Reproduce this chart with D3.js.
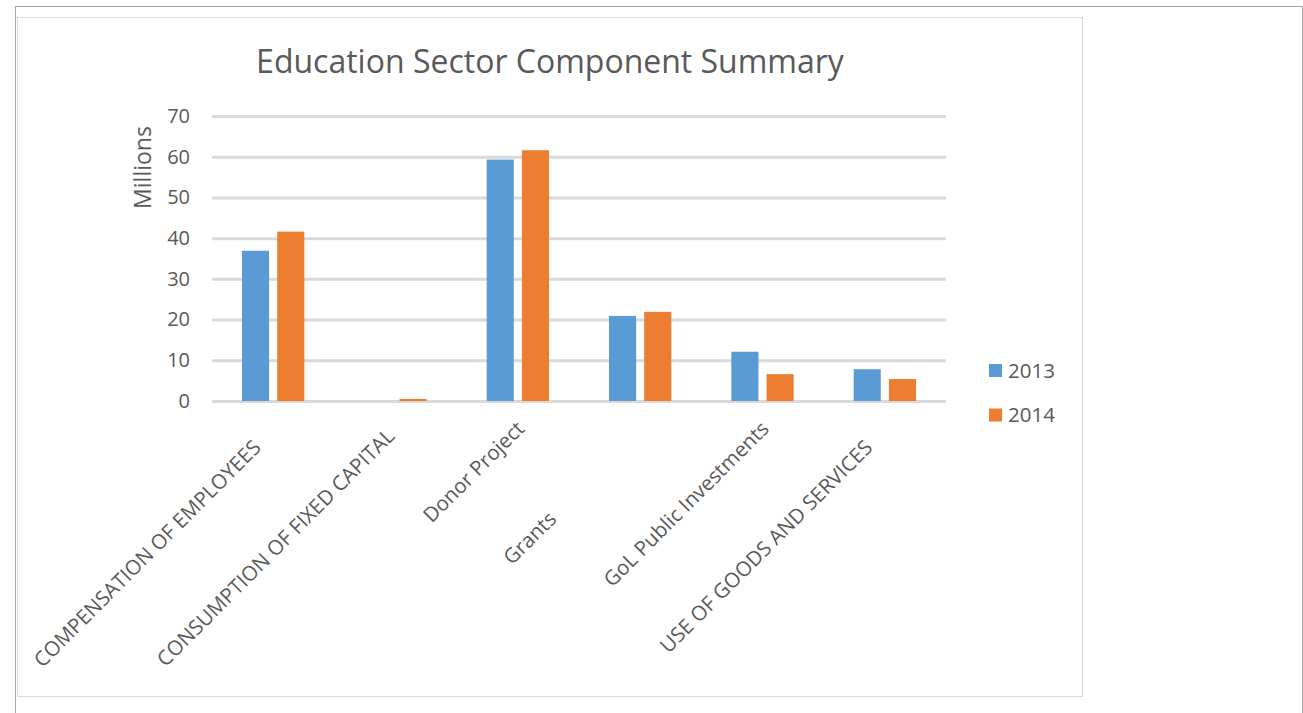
<!DOCTYPE html>
<html>
<head>
<meta charset="utf-8">
<script src="https://cdn.jsdelivr.net/npm/d3@7"></script>
<style>
  html, body { margin: 0; padding: 0; background: #fff; }
  svg { display: block; }
  text { font-family: "Open Sans", "Noto Sans", sans-serif; fill: #595959; }
  .cat-label { white-space: pre; }
</style>
</head>
<body>
<svg id="chart" width="1303" height="713"></svg>
<script>
// Education sector spending by component, in millions.
// Category names keep the trailing padding they carry in the source sheet.
const categories = [
  "COMPENSATION OF EMPLOYEES     ",
  "CONSUMPTION OF FIXED CAPITAL  ",
  "Donor Project",
  "Grants                        ",
  "GoL Public Investments",
  "USE OF GOODS AND SERVICES     "
];
const seriesNames = ["2013", "2014"];
const values2013 = [36.9, 0, 59.3, 20.9, 12.1, 7.8];
const values2014 = [41.6, 0.5, 61.6, 21.9, 6.6, 5.4];
const yTicks = [0, 10, 20, 30, 40, 50, 60, 70];
const colors = ["#5b9bd5", "#ed7d31"];

const svg = d3.select("#chart");

// page frame and chart area border
svg.append("line").attr("x1", 15).attr("x2", 1303).attr("y1", 6.5).attr("y2", 6.5)
  .attr("stroke", "#a6a6a6").attr("stroke-width", 1);
svg.append("line").attr("x1", 15.5).attr("x2", 15.5).attr("y1", 6).attr("y2", 713)
  .attr("stroke", "#a6a6a6").attr("stroke-width", 1);
svg.append("line").attr("x1", 1302.5).attr("x2", 1302.5).attr("y1", 6).attr("y2", 713)
  .attr("stroke", "#a6a6a6").attr("stroke-width", 1);
svg.append("rect").attr("x", 17.5).attr("y", 17.5).attr("width", 1065).attr("height", 679)
  .attr("fill", "#fff").attr("stroke", "#d9d9d9").attr("stroke-width", 1);

const plot = { left: 212, right: 946, top: 116, bottom: 401 };

const x0 = d3.scaleBand().domain(categories).range([plot.left, plot.right]);
const x1 = d3.scaleBand().domain(seriesNames)
  .range([30, x0.bandwidth() - 30]).paddingInner(0.23);
const y = d3.scaleLinear().domain([0, 70]).range([plot.bottom, plot.top]);

// title
svg.append("text")
  .attr("x", 550).attr("y", 73)
  .attr("text-anchor", "middle")
  .style("font-size", "32px")
  .text("Education Sector Component Summary");

// gridlines and value labels
const yAxis = d3.axisLeft(y).tickValues(yTicks).tickSize(-(plot.right - plot.left));
const gy = svg.append("g").attr("transform", `translate(${plot.left},0)`).call(yAxis);
gy.select(".domain").remove();
gy.selectAll(".tick line").attr("stroke", "#d9d9d9").attr("stroke-width", 3);
gy.selectAll(".tick text")
  .attr("x", -22)
  .style("font-size", "20px")
  .style("font-family", "\"Open Sans\", sans-serif")
  .attr("fill", "#595959");

// y axis title
svg.append("text")
  .attr("transform", "translate(151,167.5) rotate(-90)")
  .attr("text-anchor", "middle")
  .style("font-size", "23px")
  .text("Millions");

// bars
const data = categories.map((c, i) => ({ cat: c, vals: [values2013[i], values2014[i]] }));
const groups = svg.append("g").selectAll("g").data(data).join("g")
  .attr("transform", d => `translate(${x0(d.cat)},0)`);
groups.selectAll("rect")
  .data(d => d.vals.map((v, j) => ({ key: seriesNames[j], v, j })))
  .join("rect")
  .attr("x", d => x1(d.key))
  .attr("width", x1.bandwidth())
  .attr("y", d => y(d.v))
  .attr("height", d => y(0) - y(d.v))
  .attr("fill", d => colors[d.j]);

// category labels, rotated 45 degrees
const xAxis = d3.axisBottom(x0).tickSize(0).tickPadding(0);
const gx = svg.append("g").attr("transform", `translate(0,${plot.bottom})`).call(xAxis);
gx.select(".domain").remove();
gx.selectAll(".tick text")
  .attr("class", "cat-label")
  .attr("text-anchor", "end")
  .attr("dy", 0)
  .attr("x", 0).attr("y", 0)
  .attr("transform", "rotate(-45) translate(-15,26)")
  .style("font-size", "20.5px")
  .style("font-family", "\"Open Sans\", sans-serif")
  .attr("fill", "#595959");

// legend
const legend = svg.append("g").selectAll("g").data(seriesNames).join("g")
  .attr("transform", (d, i) => `translate(989,${364 + i * 44.5})`);
legend.append("rect").attr("width", 13).attr("height", 13)
  .attr("fill", (d, i) => colors[i]);
legend.append("text").attr("x", 19).attr("y", 6.5).attr("dy", "0.35em")
  .style("font-size", "20.5px")
  .text(d => d);
</script>
</body>
</html>
